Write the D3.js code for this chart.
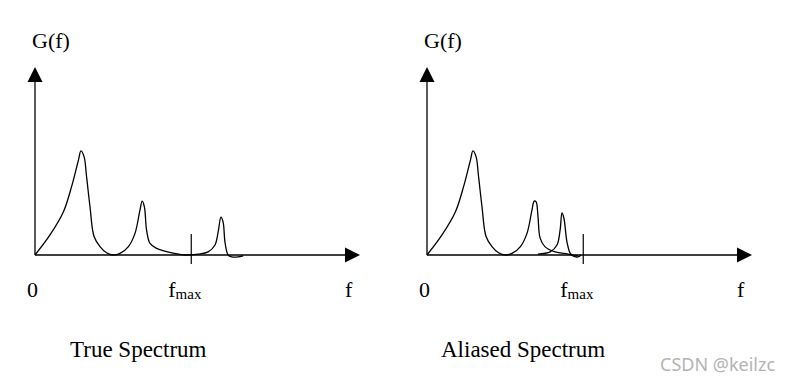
<!DOCTYPE html>
<html>
<head>
<meta charset="utf-8">
<script src="https://cdn.jsdelivr.net/npm/d3@7"></script>
<style>
  body { margin: 0; background: #fff; }
  svg text { font-family: "Times New Roman", "Liberation Serif", serif; fill: #000; }
</style>
</head>
<body>
<div id="chart"></div>
<script>
// frequency in arbitrary units, fmax = 50 ; G in arbitrary units
const fMax = 50;
const fAxisEnd = 104;
const gAxisEnd = 60;

const panelTitles = ['True Spectrum', 'Aliased Spectrum'];
const tickLabels = ['0', 'f', 'f', 'max', 'G(f)'];

// true spectrum
const trueF = [0, 4.8, 9.1, 11.7, 13.9, 14.7, 15.7, 16.5, 17.6, 18.9, 20.8, 22.9, 25.1, 27.2, 29.9, 32.0, 33.6, 34.3, 35.0, 35.7, 36.8, 38.9, 42.1, 46.4, 48.0, 52.2, 55.4, 57.6, 58.6, 59.5, 60.2, 60.8, 61.8, 63.0, 65.0, 66.6];
const trueG = [0, 6.4, 13.8, 21.8, 30.3, 33.2, 31.4, 25.0, 15.4, 5.9, 2.7, 0.7, 0.0, 0.5, 2.7, 6.9, 14.4, 17.2, 15.4, 8.0, 3.7, 2.1, 1.1, 0.2, 0.0, 0.3, 1.0, 3.2, 7.3, 12.1, 10.5, 4.1, 0.0, -0.6, -0.6, -0.3];

// aliased panel: spectrum cut at fmax
const aliasF = [0, 4.8, 9.1, 11.7, 13.9, 14.7, 15.7, 16.5, 17.6, 18.9, 20.8, 22.9, 25.1, 27.2, 29.9, 32.0, 33.6, 34.3, 34.9, 35.5, 36.2, 37.8, 41.0, 45.1, 48.3];
const aliasG = [0, 6.4, 13.8, 21.8, 30.3, 33.2, 31.4, 25.0, 15.4, 5.9, 2.7, 0.7, 0.0, 0.5, 2.7, 6.9, 14.4, 17.2, 17.0, 12.5, 5.4, 2.6, 1.0, 0.3, -0.3];

// the folded-back peak
const foldF = [35.5, 39.4, 41.6, 42.6, 43.2, 43.8, 44.8, 45.8, 46.7, 48.3, 49.3];
const foldG = [0.3, 1.0, 3.2, 8.0, 13.4, 11.8, 4.1, 0.6, -0.3, -0.6, 0.0];

const width = 796, height = 382;
const panelX = [35, 427];
const originY = 255;

const svg = d3.select('#chart').append('svg')
  .attr('width', width)
  .attr('height', height);

const x = d3.scaleLinear().domain([0, fAxisEnd]).range([0, 325]);
const y = d3.scaleLinear().domain([0, gAxisEnd]).range([0, -188]);

const line = d3.line()
  .x(d => x(d[0]))
  .y(d => y(d[1]))
  .curve(d3.curveCatmullRom.alpha(0.5));

const zip = (a, b) => a.map((v, i) => [v, b[i]]);

const curves = [
  [zip(trueF, trueG)],
  [zip(aliasF, aliasG), zip(foldF, foldG)]
];

panelX.forEach((px, p) => {
  const g = svg.append('g')
    .attr('transform', `translate(${px},${originY})`);

  // axes
  g.append('line')
    .attr('x1', 0).attr('y1', 0)
    .attr('x2', 0).attr('y2', y(gAxisEnd) + 12)
    .attr('stroke', '#000').attr('stroke-width', 1.3);
  g.append('line')
    .attr('x1', 0).attr('y1', 0)
    .attr('x2', x(fAxisEnd) - 12).attr('y2', 0)
    .attr('stroke', '#000').attr('stroke-width', 1.3);

  // arrow heads
  const ty = y(gAxisEnd), tx = x(fAxisEnd);
  g.append('path')
    .attr('d', `M0,${ty} L-7.5,${ty + 15} L7.5,${ty + 15} Z`)
    .attr('fill', '#000');
  g.append('path')
    .attr('d', `M${tx},0 L${tx - 15},-7.5 L${tx - 15},7.5 Z`)
    .attr('fill', '#000');

  // fmax tick
  g.append('line')
    .attr('x1', x(fMax)).attr('x2', x(fMax))
    .attr('y1', -21).attr('y2', 9)
    .attr('stroke', '#000').attr('stroke-width', 1.2);

  // spectrum curves
  curves[p].forEach(c => {
    g.append('path')
      .attr('d', line(c))
      .attr('fill', 'none')
      .attr('stroke', '#000')
      .attr('stroke-width', 1.3)
      .attr('stroke-linejoin', 'round');
  });

  // labels
  g.append('text')
    .attr('x', -3).attr('y', -207)
    .attr('font-size', 22)
    .text(tickLabels[4]);
  g.append('text')
    .attr('x', -8).attr('y', 42)
    .attr('font-size', 22)
    .text(tickLabels[0]);
  const fm = g.append('text')
    .attr('x', x(fMax) - 23).attr('y', 42)
    .attr('font-size', 22);
  fm.append('tspan').text(tickLabels[2]);
  fm.append('tspan')
    .attr('font-size', 15)
    .attr('dy', 2)
    .text(tickLabels[3]);
  g.append('text')
    .attr('x', x(fAxisEnd) - 15).attr('y', 42)
    .attr('font-size', 22)
    .text(tickLabels[1]);

  // panel title
  svg.append('text')
    .attr('x', px + (p === 0 ? 35 : 14))
    .attr('y', 357)
    .attr('font-size', 23)
    .text(panelTitles[p]);
});

// watermark
svg.append('text')
  .attr('x', 660).attr('y', 371)
  .style('font-family', '"Noto Sans", "DejaVu Sans", sans-serif')
  .style('fill', '#b4b4b4')
  .attr('font-size', 18)
  .text('CSDN @keilzc');
</script>
</body>
</html>
